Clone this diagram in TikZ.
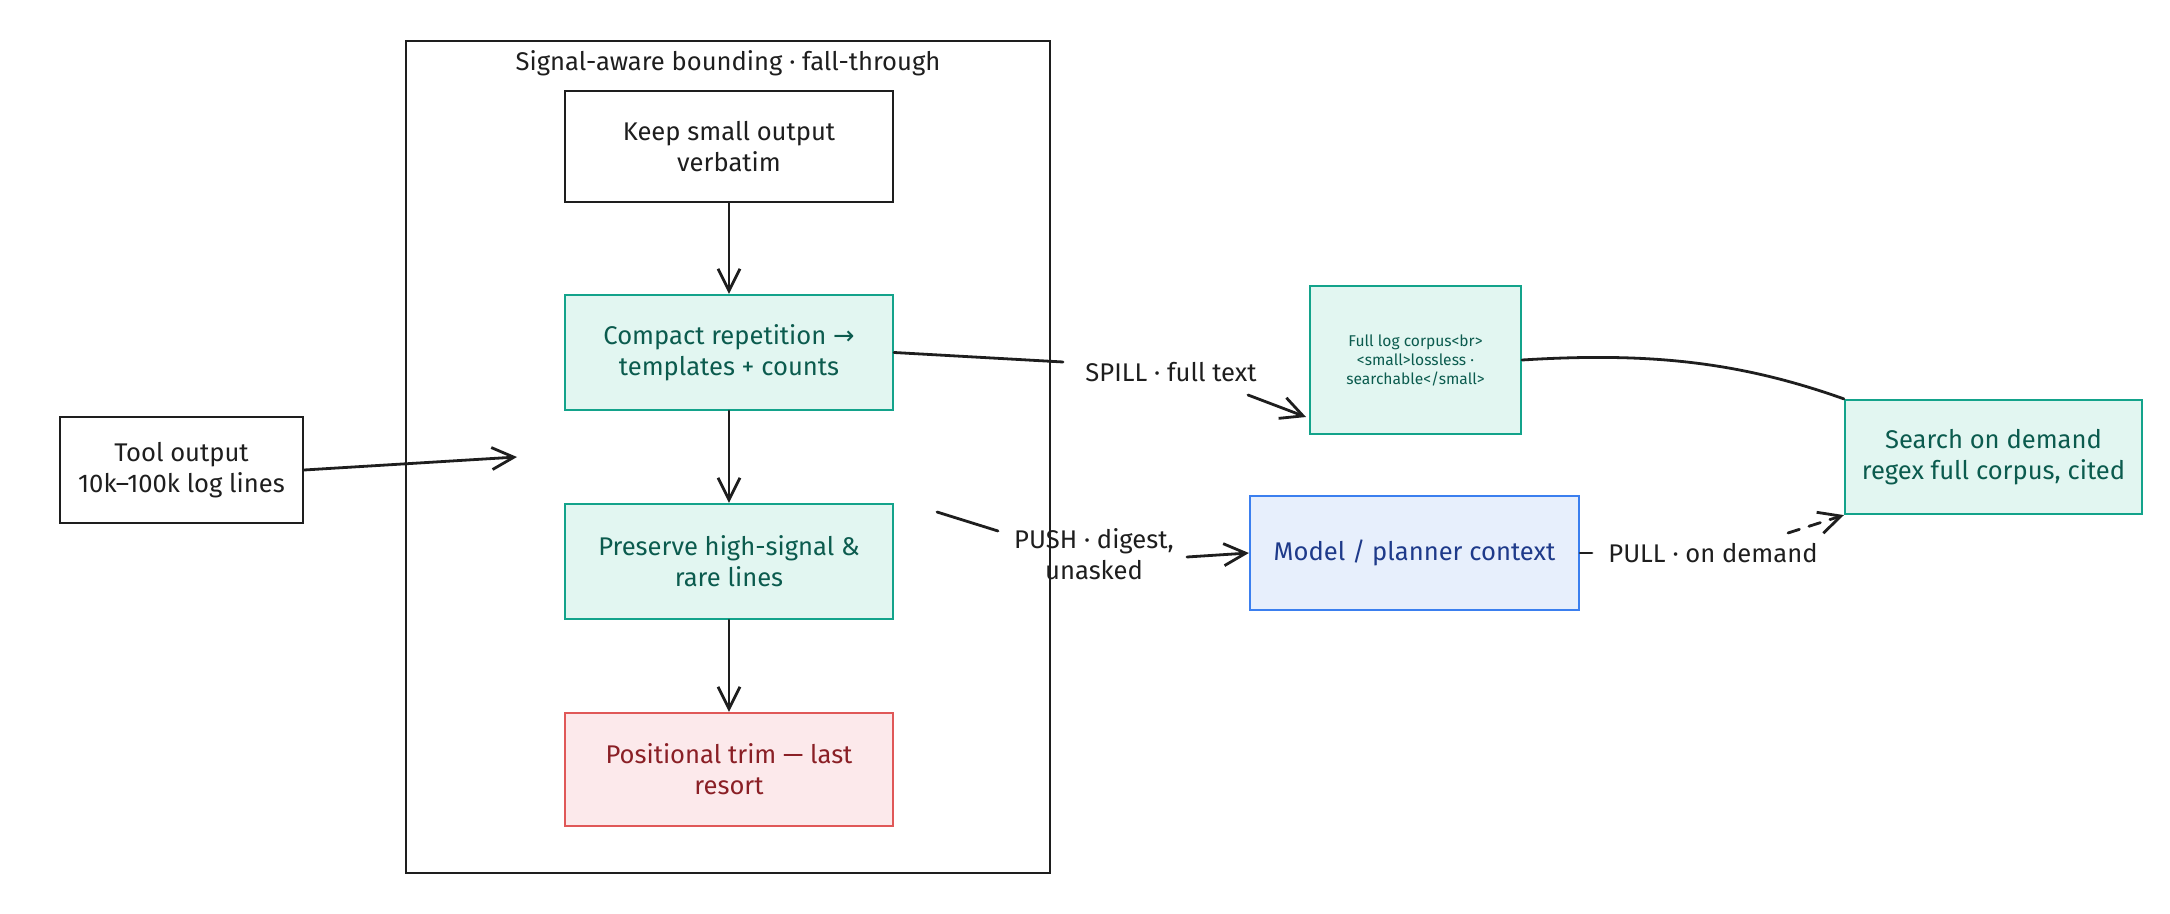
\documentclass[tikz,border=0pt]{standalone}
\usepackage{fontspec}
\setmainfont{Fira Sans}
\newfontfamily\symfont{DejaVu Sans}
\usetikzlibrary{arrows.meta}

\definecolor{tealfill}{HTML}{E2F6F1}
\definecolor{tealline}{HTML}{13A38B}
\definecolor{tealtext}{HTML}{0B5B4E}
\definecolor{redfill}{HTML}{FCE9EB}
\definecolor{redline}{HTML}{E05858}
\definecolor{redtext}{HTML}{8A1F25}
\definecolor{bluefill}{HTML}{E7EFFC}
\definecolor{blueline}{HTML}{3B7FEF}
\definecolor{bluetext}{HTML}{1E3A8A}
\definecolor{ink}{HTML}{1E1E1E}

\tikzset{
  txt/.style={font=\fontsize{12.8}{15.5}\selectfont, align=center, inner sep=0pt},
  plainbox/.style={txt, draw=ink, line width=1.1pt, fill=white, text=ink},
  tealbox/.style={txt, draw=tealline, line width=1.1pt, fill=tealfill, text=tealtext},
  redbox/.style={txt, draw=redline, line width=1.1pt, fill=redfill, text=redtext},
  bluebox/.style={txt, draw=blueline, line width=1.1pt, fill=bluefill, text=bluetext},
  lbl/.style={txt, text=ink},
  conn/.style={draw=ink, line width=1.4pt, line cap=round},
  arr/.style={conn, -{Straight Barb[length=11pt,width=11pt,line width=1.4pt]}},
}

\begin{document}
\begin{tikzpicture}[x=0.5pt,y=-0.5pt]
\useasboundingbox (0,0) rectangle (2170,914);

% frame
\draw[draw=ink, line width=1.3pt] (406,41) rectangle (1050,873);
\node[lbl] (title) at (728,63) {Signal-aware bounding · fall-through};

% nodes
\node[plainbox, minimum width=164pt, minimum height=55.5pt] (keep) at (729,146.5) {Keep small output\\verbatim};
\node[tealbox, minimum width=164pt, minimum height=57.5pt] (compact) at (729,352.5) {Compact repetition {\symfont →}\\templates + counts};
\node[tealbox, minimum width=164pt, minimum height=57.5pt] (preserve) at (729,561.5) {Preserve high-signal \&\\rare lines};
\node[redbox, minimum width=164pt, minimum height=56.5pt] (trim) at (729,769.5) {Positional trim — last\\resort};

\node[plainbox, minimum width=121.5pt, minimum height=53pt] (tool) at (181.5,470) {Tool output\\10k–100k log lines};

\node[tealbox, minimum width=105.5pt, minimum height=74pt, font=\fontsize{7.8}{9.5}\selectfont] (corpus) at (1415.5,360) {Full log corpus<br>\\<small>lossless ·\\searchable</small>};
\node[tealbox, minimum width=148.5pt, minimum height=57pt] (search) at (1993.5,457) {Search on demand\\regex full corpus, cited};
\node[bluebox, minimum width=164.5pt, minimum height=57pt] (model) at (1414.5,553) {Model / planner context};

% vertical flow
\draw[arr] (keep.south) -- (compact.north);
\draw[arr] (compact.south) -- (preserve.north);
\draw[arr] (preserve.south) -- (trim.north);

% tool -> frame
\coordinate (tin) at (517,457);
\draw[arr] (tool.east) -- (tin);

% SPILL
\coordinate (spB) at (1063,362);
\coordinate (spC) at (1248,395);
\coordinate (spD) at (1306,417);
\draw[conn] (compact.east) -- (spB);
\node[lbl] (spill) at (1171,372) {SPILL · full text};
\draw[arr] (spC) -- (spD);

% PUSH
\coordinate (pushA) at (937,512);
\coordinate (pushB) at (998,531);
\coordinate (pushC) at (1187,557);
\draw[conn] (pushA) -- (pushB);
\node[lbl] (push) at (1094,554) {PUSH · digest,\\unasked};
\draw[arr] (pushC) -- (model.west);

% PULL
\coordinate (pullB) at (1592,553);
\coordinate (pullC) at (1788,533);
\draw[conn] (model.east) -- (pullB);
\node[lbl] (pull) at (1713,553) {PULL · on demand};
\draw[arr, dash pattern=on 6pt off 5pt] (pullC) -- (search.south west);

% corpus -> search
\draw[conn] (corpus.east) .. controls (1650,352) and (1740,362) .. (search.north west);
\end{tikzpicture}
\end{document}
